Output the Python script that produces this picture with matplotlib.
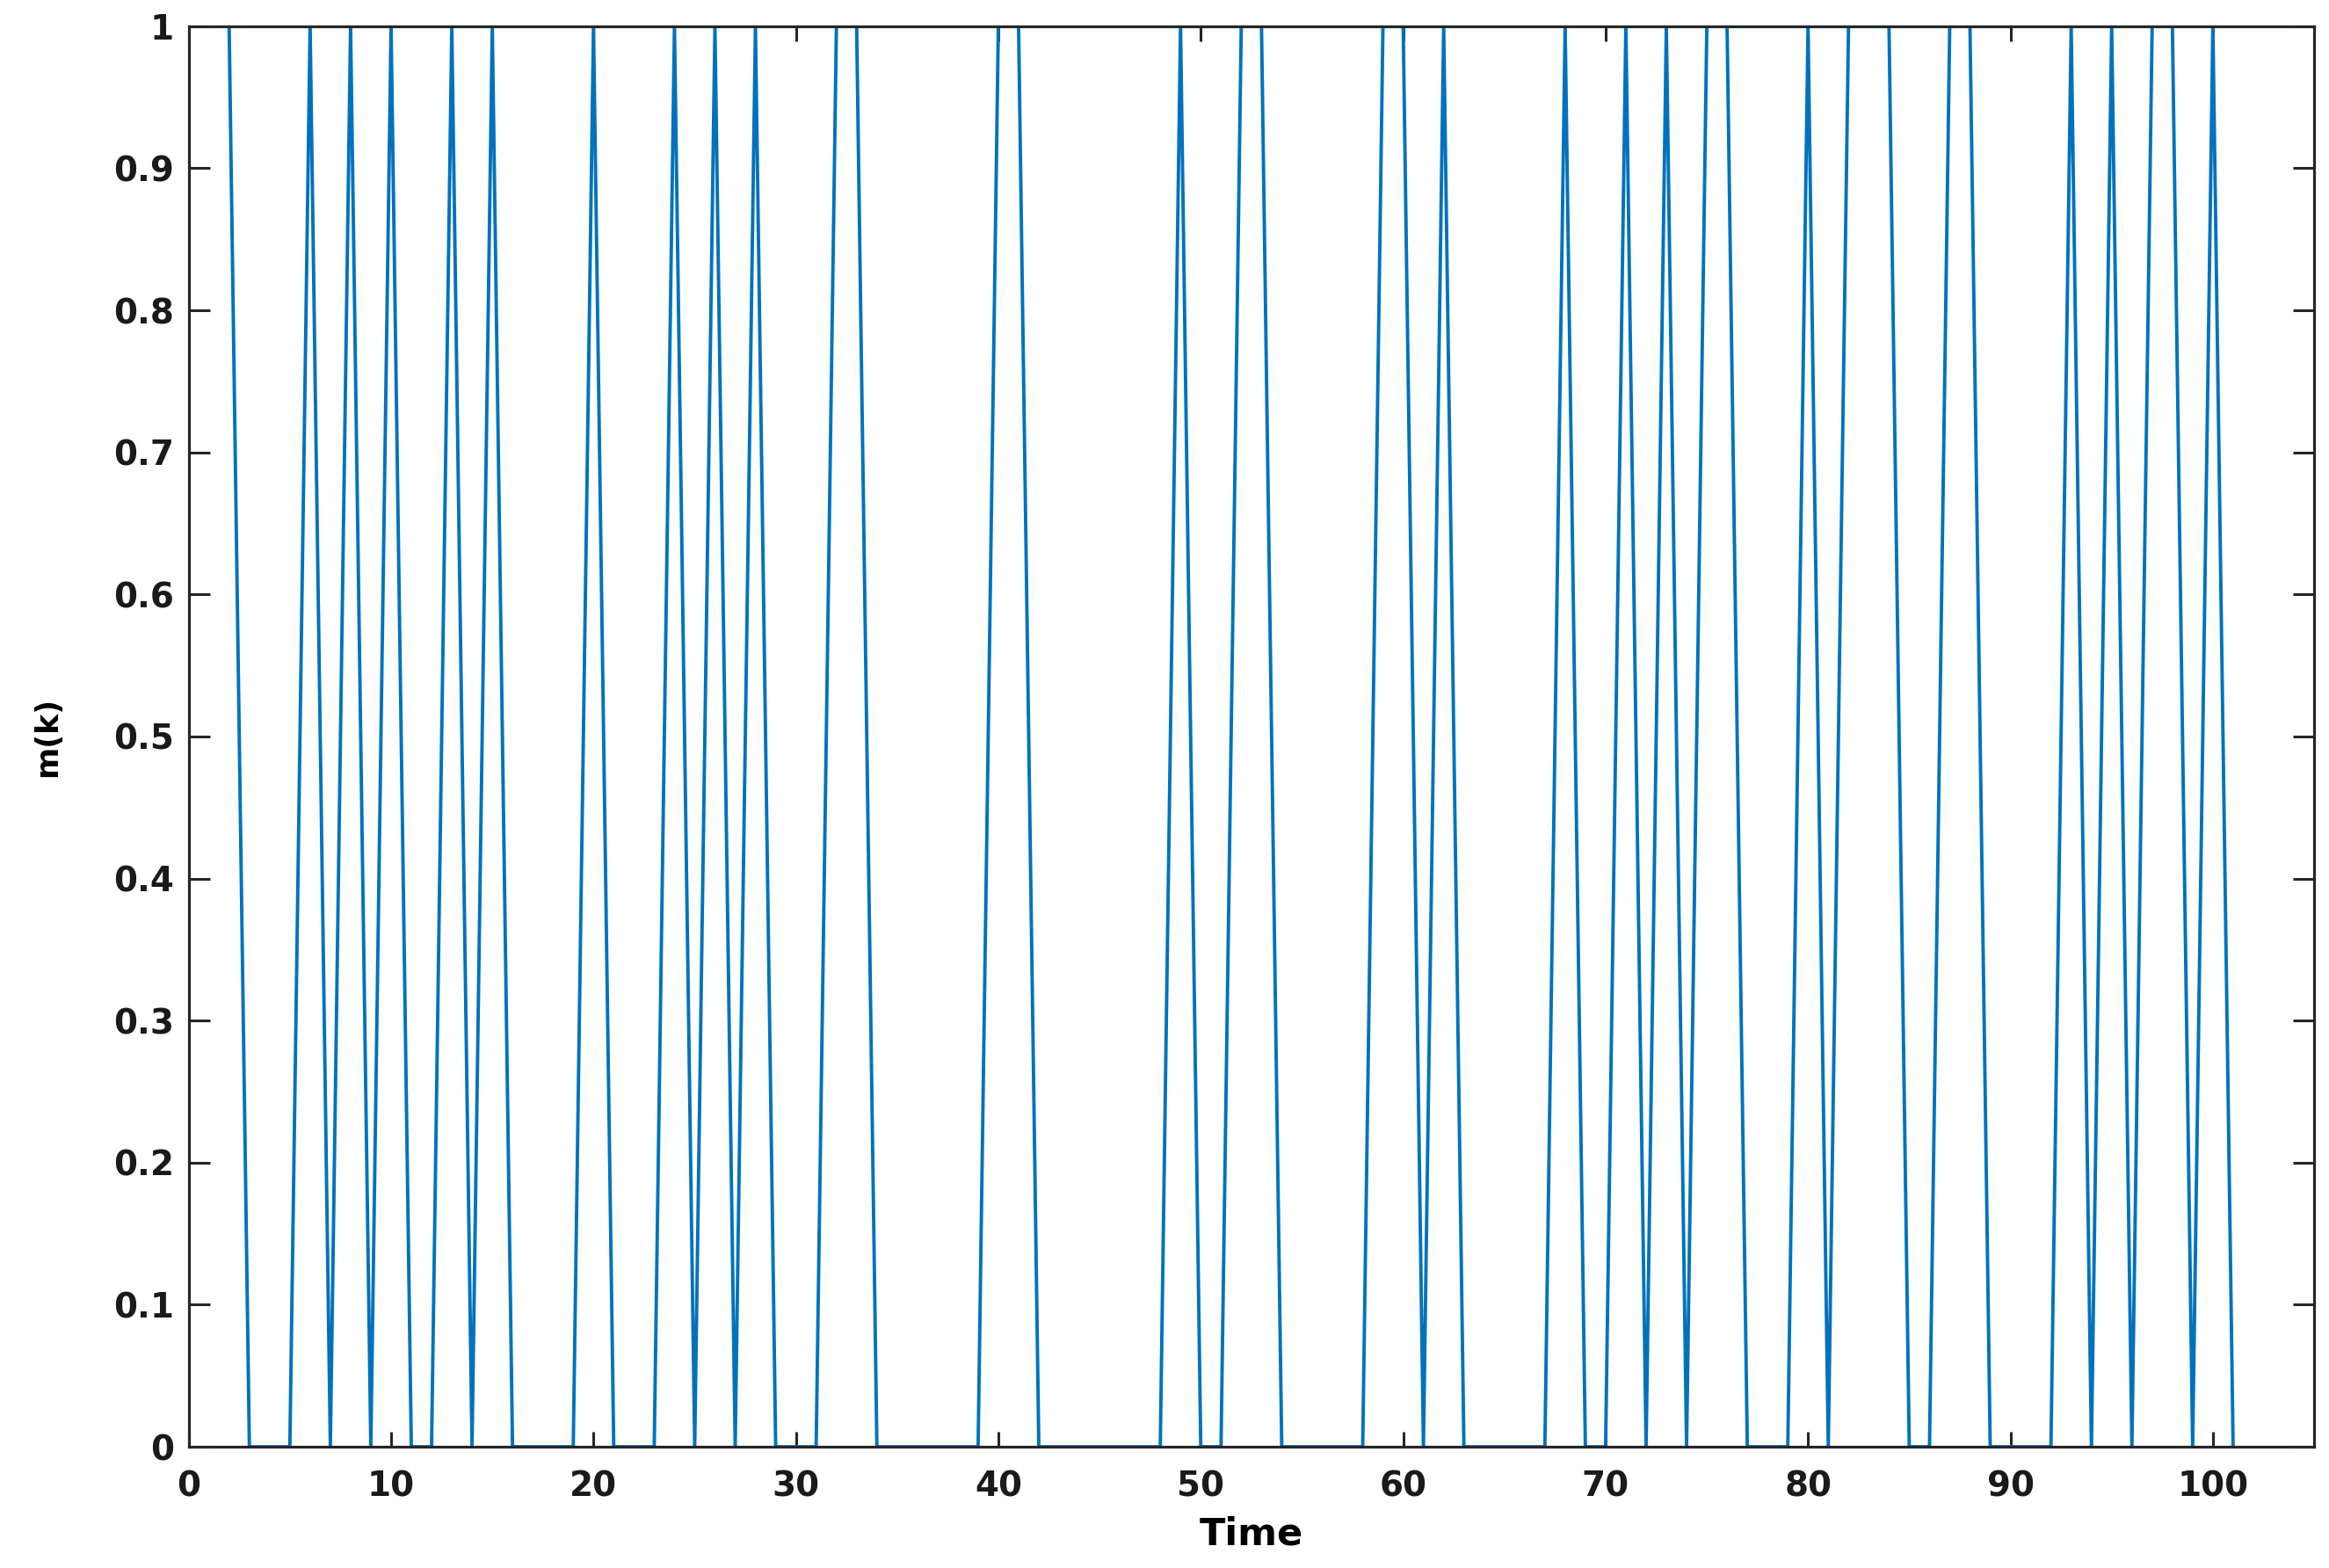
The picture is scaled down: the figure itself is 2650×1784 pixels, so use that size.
import matplotlib
matplotlib.use("Agg")
import matplotlib.pyplot as plt

# time steps and the 0/1 switching signal m(k)
time = list(range(1, 102))
m_k = [1, 1, 0, 0, 0, 1, 0, 1, 0, 1,
       0, 0, 1, 0, 1, 0, 0, 0, 0, 1,
       0, 0, 0, 1, 0, 1, 0, 1, 0, 0,
       0, 1, 1, 0, 0, 0, 0, 0, 0, 1,
       1, 0, 0, 0, 0, 0, 0, 0, 1, 0,
       0, 1, 1, 0, 0, 0, 0, 0, 1, 1,
       0, 1, 0, 0, 0, 0, 0, 1, 0, 0,
       1, 0, 1, 0, 1, 1, 0, 0, 0, 1,
       0, 1, 1, 1, 0, 0, 1, 1, 0, 0,
       0, 0, 1, 0, 1, 0, 1, 1, 0, 1,
       0]

x_ticks = list(range(0, 101, 10))
y_ticks = [i / 10 for i in range(11)]
y_labels = ["0"] + ["0.%d" % i for i in range(1, 10)] + ["1"]

fig = plt.figure(figsize=(26.5, 17.84), dpi=100)
ax = fig.add_axes([0.081, 0.0773, 0.9126, 0.906])

ax.plot(time, m_k, color="#0072BD", linewidth=2.8)

ax.set_xlim(0, 105)
ax.set_ylim(0, 1)
ax.set_xticks(x_ticks)
ax.set_yticks(y_ticks)
ax.set_yticklabels(y_labels)

for s in ax.spines.values():
    s.set_linewidth(2.3)
    s.set_color("#262626")

ax.tick_params(axis="both", direction="in", top=True, right=True,
               width=2.2, colors="#262626", labelsize=28)
ax.tick_params(axis="x", length=12, pad=19)
ax.tick_params(axis="y", length=17, pad=12)
for lab in ax.get_xticklabels() + ax.get_yticklabels():
    lab.set_fontweight("bold")
    lab.set_color("#1a1a1a")

ax.set_xlabel("Time", fontsize=31, fontweight="bold", labelpad=10)
ax.set_ylabel("m(k)", fontsize=25, fontweight="bold", labelpad=42)

fig.savefig("out.png", dpi=100)
